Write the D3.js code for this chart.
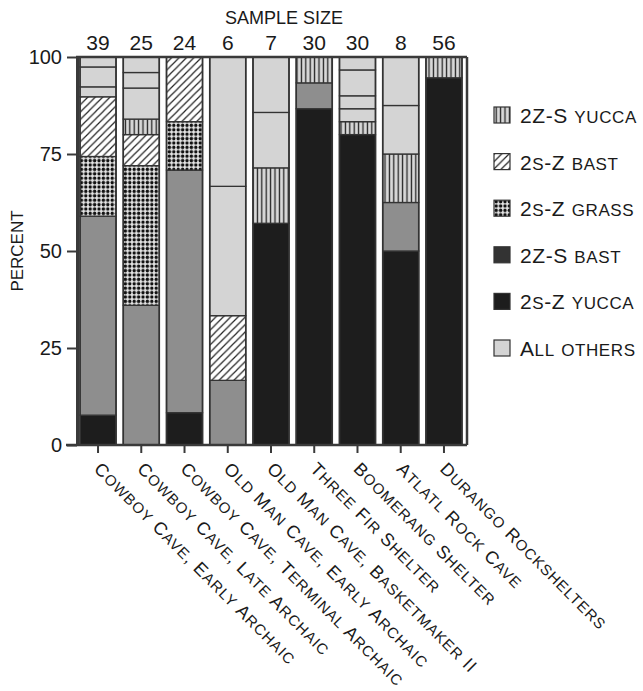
<!DOCTYPE html>
<html>
<head>
<meta charset="utf-8">
<script src="https://cdn.jsdelivr.net/npm/d3@7"></script>
<style>
body { margin: 0; background: #fff; }
svg text { font-family: "Liberation Sans", Arial, sans-serif; fill: #1a1a1a; }
</style>
</head>
<body>
<svg id="chart" width="643" height="691"></svg>
<script>
// sites, left to right
const sites = ["Cowboy Cave, Early Archaic", "Cowboy Cave, Late Archaic", "Cowboy Cave, Terminal Archaic",
  "Old Man Cave, Early Archaic", "Old Man Cave, Basketmaker II", "Three Fir Shelter",
  "Boomerang Shelter", "Atlatl Rock Cave", "Durango Rockshelters"];
const sampleSize = [39, 25, 24, 6, 7, 30, 30, 8, 56];

// counts per site, stacked bottom -> top in this order
const yucca2SZ = [3, 0, 2, 0, 4, 26, 24, 4, 53];   // 2s-Z yucca
const bast2ZS  = [20, 9, 15, 1, 0, 2, 0, 1, 0];    // 2Z-S bast
const grass2SZ = [6, 9, 3, 0, 0, 0, 0, 0, 0];      // 2s-Z grass
const bast2SZ  = [6, 2, 4, 1, 0, 0, 0, 0, 0];      // 2s-Z bast
const yucca2ZS = [0, 1, 0, 0, 1, 2, 1, 1, 3];      // 2Z-S yucca
// "all others", split into their own blocks (bottom -> top)
const others = [[1, 2, 1], [2, 1, 1], [], [2, 2], [1, 1], [], [1, 1, 2, 1], [1, 1], []];

const legendNames = ["2Z-S yucca", "2s-Z bast", "2s-Z grass", "2Z-S bast", "2s-Z yucca", "All others"];
const legendKeys = ["vert", "hatch", "dots", "grayLeg", "black", "light"];
const yTicks = [0, 25, 50, 75, 100];

const svg = d3.select("#chart");

const x = d3.scaleBand().domain(sites).range([76, 466]).paddingInner(0.167).paddingOuter(0.093);
const y = d3.scaleLinear().domain([0, 100]).range([445, 57]);

// small caps by hand: lowercase runs drawn as smaller capitals
function smallCaps(sel, big, small) {
  sel.each(function(d) {
    const t = d3.select(this);
    const runs = d.match(/[a-z]+|[^a-z]+/g);
    runs.forEach(r => {
      const low = /[a-z]/.test(r);
      t.append("tspan").attr("font-size", low ? small : big).text(low ? r.toUpperCase() : r);
    });
  });
}

// patterns
const defs = svg.append("defs");
const pv = defs.append("pattern").attr("id", "vert").attr("patternUnits", "userSpaceOnUse")
  .attr("width", 4.4).attr("height", 10);
pv.append("rect").attr("width", 4.4).attr("height", 10).attr("fill", "#d8d8d8");
pv.append("line").attr("x1", 2.2).attr("x2", 2.2).attr("y1", 0).attr("y2", 10)
  .attr("stroke", "#222").attr("stroke-width", 1.3);

const ph = defs.append("pattern").attr("id", "hatch").attr("patternUnits", "userSpaceOnUse")
  .attr("width", 7.4).attr("height", 7.4);
ph.append("rect").attr("width", 7.4).attr("height", 7.4).attr("fill", "#fff");
ph.append("path").attr("d", "M0,7.4L7.4,0M-1,1L1,-1M6.4,8.4L8.4,6.4")
  .attr("stroke", "#222").attr("stroke-width", 1.2);

const pd = defs.append("pattern").attr("id", "dots").attr("patternUnits", "userSpaceOnUse")
  .attr("width", 4.4).attr("height", 4.4);
pd.append("rect").attr("width", 4.4).attr("height", 4.4).attr("fill", "#e4e4e4");
pd.append("circle").attr("cx", 2.2).attr("cy", 2.2).attr("r", 1.7).attr("fill", "#111");

const fills = { vert: "url(#vert)", hatch: "url(#hatch)", dots: "url(#dots)",
  gray: "#8e8e8e", grayLeg: "#333", black: "#1d1d1d", light: "#d4d4d4" };

// build stacked segments
const segs = [];
sites.forEach((s, i) => {
  const parts = [
    [yucca2SZ[i], "black"], [bast2ZS[i], "gray"], [grass2SZ[i], "dots"],
    [bast2SZ[i], "hatch"], [yucca2ZS[i], "vert"]
  ].concat(others[i].map(v => [v, "light"]));
  let acc = 0;
  parts.forEach(([v, k]) => {
    if (!v) return;
    segs.push({ site: s, k: k, y0: acc / sampleSize[i] * 100, y1: (acc + v) / sampleSize[i] * 100 });
    acc += v;
  });
});

svg.append("g").selectAll("rect").data(segs).enter().append("rect")
  .attr("x", d => x(d.site))
  .attr("width", x.bandwidth())
  .attr("y", d => y(d.y1))
  .attr("height", d => y(d.y0) - y(d.y1))
  .attr("fill", d => fills[d.k])
  .attr("stroke", "#333")
  .attr("stroke-width", 1.3);

// bar outlines
svg.append("g").selectAll("rect").data(sites).enter().append("rect")
  .attr("x", d => x(d)).attr("width", x.bandwidth())
  .attr("y", y(100)).attr("height", y(0) - y(100))
  .attr("fill", "none").attr("stroke", "#333").attr("stroke-width", 1.6);

// frame
const frame = svg.append("g").attr("stroke", "#3a3a3a").attr("fill", "none");
frame.append("line").attr("x1", 76).attr("x2", 467).attr("y1", y(100)).attr("y2", y(100)).attr("stroke-width", 2.5);
frame.append("line").attr("x1", 467).attr("x2", 467).attr("y1", y(100)).attr("y2", y(0)).attr("stroke-width", 2.5);

// y axis
const yAxis = svg.append("g").attr("transform", "translate(77,0)")
  .call(d3.axisLeft(y).tickValues(yTicks).tickSize(10).tickPadding(5).tickSizeOuter(0));
yAxis.select(".domain").attr("stroke", "#3a3a3a").attr("stroke-width", 3);
yAxis.selectAll(".tick line").attr("stroke", "#3a3a3a").attr("stroke-width", 2);
yAxis.selectAll(".tick text").attr("font-size", 20).attr("fill", "#333")
  .style("font-family", "'Liberation Sans', Arial, sans-serif");

// x axis (ticks only, labels rotated)
const xAxis = svg.append("g").attr("transform", `translate(0,${y(0)})`)
  .call(d3.axisBottom(x).tickSize(8).tickSizeOuter(0).tickFormat(""));
xAxis.select(".domain").attr("d", "M66,0H467").attr("stroke", "#3a3a3a").attr("stroke-width", 2.5);
xAxis.selectAll(".tick line").attr("stroke", "#3a3a3a").attr("stroke-width", 2);

svg.append("g").selectAll("text").data(sites).enter().append("text")
  .attr("transform", d => `translate(${x(d) + x.bandwidth() / 2 - 5},470) rotate(45)`)
  .attr("letter-spacing", 1)
  .call(smallCaps, 18, 15);

// sample sizes
svg.append("text").attr("x", 284).attr("y", 24).attr("text-anchor", "middle")
  .attr("font-size", 18).text("SAMPLE SIZE");
svg.append("g").selectAll("text").data(sites).enter().append("text")
  .attr("x", d => x(d) + x.bandwidth() / 2).attr("y", 50)
  .attr("text-anchor", "middle").attr("font-size", 21)
  .text((d, i) => sampleSize[i]);

// y title
svg.append("text").attr("transform", `translate(23,${y(50)}) rotate(-90)`)
  .attr("text-anchor", "middle").attr("font-size", 17).attr("fill", "#333").text("PERCENT");

// legend
const leg = svg.append("g").selectAll("g").data(legendNames).enter().append("g")
  .attr("transform", (d, i) => `translate(494,${115 + i * 46.6})`);
leg.append("rect").attr("x", 0).attr("y", -8).attr("width", 16).attr("height", 16)
  .attr("fill", (d, i) => fills[legendKeys[i]]).attr("stroke", "#333").attr("stroke-width", 1.2);
leg.append("text").attr("x", 26).attr("y", 8).attr("letter-spacing", 0.6)
  .call(smallCaps, 21, 17);
</script>
</body>
</html>
